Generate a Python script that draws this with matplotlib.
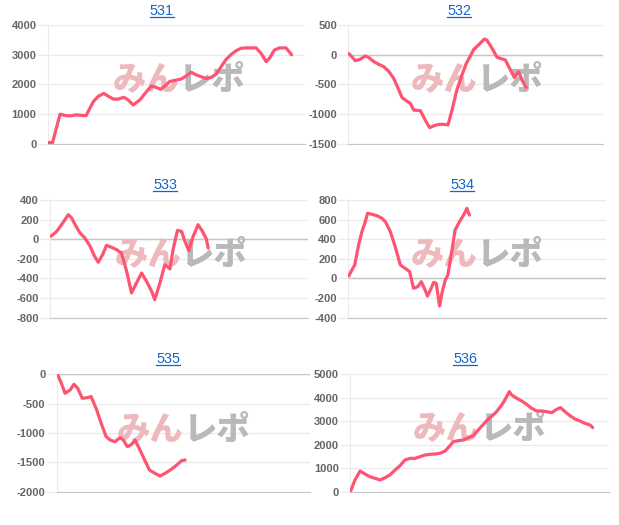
import matplotlib
matplotlib.use('Agg')
import matplotlib.pyplot as plt
from matplotlib.lines import Line2D

# データ (x は各グラフの横幅に対する位置 0-100)
titles = ['531', '532', '533', '534', '535', '536']

x531 = [0, 1.9, 4.8, 7.4, 9.3, 11.2, 14.9, 17.7, 19.6, 21.8, 23.5, 25.5, 27.4, 29.6, 31.3, 33.2,
        35.8, 38.4, 40.3, 42.2, 43.9, 46.1, 47.4, 50.0, 51.9, 53.9, 55.8, 57.8, 59.7, 61.6, 63.6,
        65.5, 67.4, 69.4, 71.3, 73.3, 75.2, 77.1, 81.0, 82.9, 84.9, 86.2, 88.1, 90.1, 92.6, 93.9, 94.8]
y531 = [50, 50, 1000, 950, 950, 980, 950, 1420, 1600, 1700, 1610, 1510, 1510, 1570, 1480, 1310,
        1480, 1760, 1950, 1900, 1840, 1990, 2100, 2150, 2185, 2290, 2410, 2320, 2260, 2200, 2240,
        2350, 2600, 2850, 3010, 3140, 3220, 3230, 3230, 3050, 2770, 2880, 3160, 3230, 3230, 3100, 3000]

x532 = [0.3, 2.9, 4.8, 6.8, 8.1, 10.1, 12.0, 14.0, 15.9, 17.9, 19.5, 21.2, 23.1, 24.4, 25.8, 28.4,
        30.3, 32.0, 33.6, 35.6, 37.5, 39.2, 40.8, 42.7, 44.7, 46.4, 48.0, 49.3, 51.2, 53.5, 54.5,
        56.5, 58.4, 59.7, 61.7, 63.7, 65.2, 66.9, 68.2, 69.9]
y532 = [20, -100, -75, -20, -45, -115, -160, -200, -275, -395, -550, -720, -780, -815, -930, -940,
        -1100, -1225, -1195, -1170, -1170, -1180, -930, -590, -340, -145, -20, 90, 165, 265, 245,
        108, -40, -60, -88, -255, -380, -285, -425, -550]

x533 = [0.3, 2.6, 4.5, 7.1, 8.4, 9.7, 11.6, 13.5, 15.5, 17.4, 18.7, 20.4, 21.9, 23.9, 25.8, 27.7,
        29.7, 31.6, 33.5, 35.5, 37.4, 39.4, 40.6, 42.6, 44.5, 46.5, 47.7, 49.4, 51.0, 52.3, 53.8,
        55.5, 57.4, 59.1, 60.6, 61.3]
y533 = [30, 80, 150, 250, 217, 150, 65, 13, -70, -180, -235, -157, -62, -83, -106, -140,
        -327, -548, -446, -344, -429, -531, -616, -446, -259, -303, -106, 90, 80, -22, -117,
        30, 148, 80, 2, -90]

x534 = [0.3, 1.5, 2.6, 4.1, 5.4, 6.5, 7.6, 9.3, 11.2, 13.2, 14.5, 16.4, 18.3, 20.3, 22.2, 23.9,
        25.4, 27.0, 28.4, 29.9, 30.8, 32.1, 33.2, 34.2, 35.5, 36.4, 37.7, 38.7, 40.3, 41.5, 43.2,
        44.8, 46.1, 46.5, 47.1]
y534 = [25, 86, 137, 341, 477, 562, 664, 654, 640, 613, 579, 477, 324, 137, 103, 69,
        -100, -84, -33, -118, -180, -108, -40, -50, -281, -152, -16, 35, 290, 494, 579,
        647, 715, 681, 647]

x535 = [0.3, 1.7, 3.3, 5.3, 6.8, 8.3, 10.1, 12.1, 13.6, 15.8, 17.8, 19.5, 21.1, 23.0, 25.0, 26.3,
        27.9, 29.6, 30.9, 32.9, 34.9, 36.6, 38.8, 40.8, 42.8, 45.4, 47.4, 49.3, 50.7]
y535 = [0, -136, -324, -267, -170, -239, -409, -398, -380, -608, -864, -1062, -1119, -1148, -1080,
        -1119, -1233, -1193, -1119, -1290, -1477, -1630, -1687, -1733, -1687, -1614, -1545, -1472, -1460]

x536 = [0.3, 1.9, 3.9, 5.8, 7.7, 9.7, 11.6, 13.5, 15.4, 17.4, 19.3, 21.2, 23.2, 25.1, 27.0, 29.0,
        30.9, 32.8, 34.7, 36.7, 38.6, 39.9, 41.8, 43.8, 45.7, 47.6, 49.5, 51.5, 53.4, 55.3, 56.6,
        58.6, 60.5, 61.5, 62.4, 64.4, 66.3, 68.2, 70.1, 72.1, 74.0, 75.9, 77.9, 79.8, 81.3, 83.0,
        84.9, 86.9, 88.8, 90.7, 92.7, 93.7]
y536 = [43, 497, 880, 753, 639, 568, 497, 597, 710, 923, 1108, 1349, 1420, 1420, 1491, 1562,
        1591, 1605, 1633, 1733, 1960, 2131, 2173, 2202, 2301, 2386, 2628, 2869, 3097, 3267, 3409,
        3693, 4048, 4261, 4119, 3977, 3864, 3722, 3551, 3438, 3438, 3409, 3366, 3509, 3580, 3409,
        3239, 3097, 3011, 2912, 2841, 2727]

xs = [x531, x532, x533, x534, x535, x536]
ys = [y531, y532, y533, y534, y535, y536]
yticks = [
    [0, 1000, 2000, 3000, 4000],
    [-1500, -1000, -500, 0, 500],
    [-800, -600, -400, -200, 0, 200, 400],
    [-400, -200, 0, 200, 400, 600, 800],
    [-2000, -1500, -1000, -500, 0],
    [0, 1000, 2000, 3000, 4000, 5000],
]

W, H = 619, 525
# 各グラフの枠 (left, top, right, bottom) ピクセル
boxes = [
    (47.7, 25, 305, 144),
    (348, 25, 603, 144),
    (50, 200, 308, 317.7),
    (348, 200, 606, 317.7),
    (56.7, 374.3, 310, 491.7),
    (350, 374.3, 609, 491.7),
]
title_pos = [(162, 15), (459, 15), (165, 189), (462, 189), (168, 363), (465, 363)]
mark_pos = [(179, 79), (477, 79), (181, 254), (477, 254), (184, 429), (480, 428)]

line_color = '#ff5372'
grid_color = '#ebebeb'
axis_color = '#c6c6c6'
tick_color = '#666666'

plt.rcParams['font.family'] = ['Liberation Sans', 'DejaVu Sans']
plt.rcParams['axes.unicode_minus'] = False

fig = plt.figure(figsize=(W / 100, H / 100), dpi=100)
fig.patch.set_facecolor('white')

title_texts = []
for i in range(6):
    l, t, r, b = boxes[i]
    ax = fig.add_axes([l / W, 1 - b / H, (r - l) / W, (b - t) / H])
    ax.plot(xs[i], ys[i], color=line_color, lw=2.3, solid_joinstyle='round',
            solid_capstyle='round', zorder=3)
    ax.set_xlim(0, 100)
    ax.set_ylim(yticks[i][0], yticks[i][-1])
    ax.set_yticks(yticks[i])
    ax.set_xticks([])
    ax.grid(axis='y', color=grid_color, lw=1)
    ax.set_axisbelow(True)
    if 0 in yticks[i] and yticks[i][0] != 0:
        ax.axhline(0, color=axis_color, lw=1, zorder=1)
    for s in ['top', 'right']:
        ax.spines[s].set_visible(False)
    ax.spines['left'].set_color(grid_color)
    ax.spines['bottom'].set_color(axis_color)
    ax.tick_params(axis='y', length=7, width=1, color=grid_color, pad=1,
                   labelsize=8, labelcolor=tick_color)
    for lab in ax.get_yticklabels():
        lab.set_fontweight('bold')

    # ウォーターマーク
    mx, my = mark_pos[i]
    ax.text(mx / W, 1 - my / H, 'みん', transform=fig.transFigure, ha='right', va='center',
            fontsize=24, fontweight='black', color='#edb9bc', family=['Noto Sans CJK JP'], zorder=1)
    ax.text(mx / W, 1 - my / H, 'レポ', transform=fig.transFigure, ha='left', va='center',
            fontsize=24, fontweight='black', color='#b9b9b9', family=['Noto Sans CJK JP'], zorder=1)

    tx, ty = title_pos[i]
    tt = fig.text(tx / W, 1 - ty / H, titles[i], ha='center', va='baseline',
                  fontsize=10.4, color='#1467c8')
    title_texts.append(tt)

# タイトルの下線
fig.canvas.draw()
renderer = fig.canvas.get_renderer()
for tt in title_texts:
    bb = tt.get_window_extent(renderer)
    x0, y0 = tt.get_position()
    yline = y0 - 2 / H
    fig.add_artist(Line2D([bb.x0 / W, bb.x1 / W], [yline, yline], color='#1467c8', lw=0.9,
                          transform=fig.transFigure))

plt.savefig('out.png', dpi=100)
